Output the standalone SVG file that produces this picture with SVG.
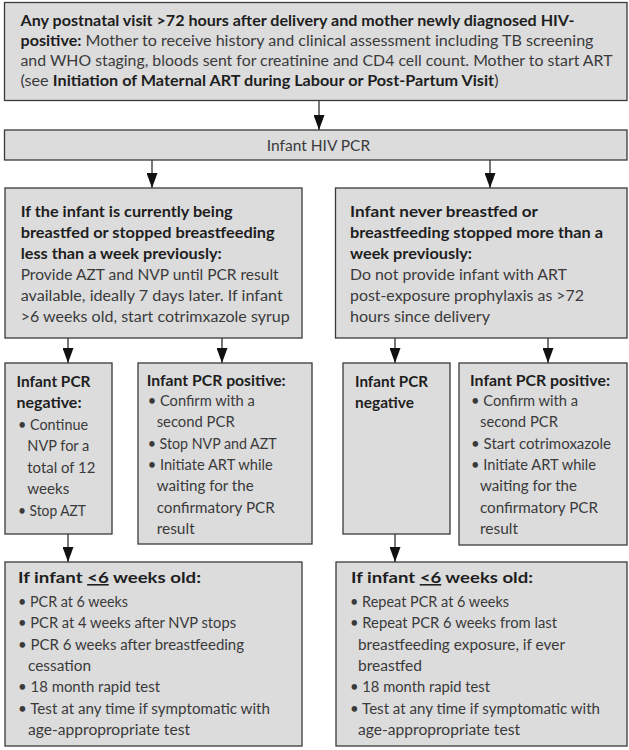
<svg xmlns="http://www.w3.org/2000/svg" width="629" height="750" viewBox="0 0 629 750">
<style>
.box{fill:#dcdcdd;stroke:#3a3a3a;stroke-width:1.3}
text{font-family:Lato,"Open Sans","Liberation Sans",sans-serif;font-size:15.5px;fill:#3a3a3a}
.b{font-weight:bold;fill:#1e1e1e}
.conn{stroke:#1e1e1e;stroke-width:1.2;fill:none}
</style>
<defs>
<marker id="ah" viewBox="0 0 15 11" markerWidth="15" markerHeight="11" refX="15" refY="5.5" orient="auto" markerUnits="userSpaceOnUse">
<path d="M0,0 L15,5.5 L0,11 z" fill="#111"/>
</marker>
</defs>
<rect width="629" height="750" fill="#ffffff"/>

<g id="connectors">
<line class="conn" x1="319" y1="100.5" x2="319" y2="130" marker-end="url(#ah)"/>
<line class="conn" x1="152" y1="160" x2="152" y2="188" marker-end="url(#ah)"/>
<line class="conn" x1="490" y1="160" x2="490" y2="188" marker-end="url(#ah)"/>
<line class="conn" x1="68" y1="338" x2="68" y2="363" marker-end="url(#ah)"/>
<line class="conn" x1="222" y1="338" x2="222" y2="363" marker-end="url(#ah)"/>
<line class="conn" x1="395" y1="338" x2="395" y2="363" marker-end="url(#ah)"/>
<line class="conn" x1="548" y1="338" x2="548" y2="363" marker-end="url(#ah)"/>
<line class="conn" x1="68" y1="534" x2="68" y2="562" marker-end="url(#ah)"/>
<line class="conn" x1="395" y1="534" x2="395" y2="562" marker-end="url(#ah)"/>
</g>

<g id="mother-visit">
<rect class="box" x="4.5" y="2.5" width="622.5" height="98"/>
<text x="20.5" y="25.5" textLength="554" lengthAdjust="spacingAndGlyphs"><tspan class="b">Any postnatal visit &gt;72 hours after delivery and mother newly diagnosed HIV-</tspan></text>
<text x="20.5" y="45.8" textLength="573" lengthAdjust="spacingAndGlyphs"><tspan class="b">positive:</tspan> Mother to receive history and clinical assessment including TB screening</text>
<text x="20.5" y="66.1" textLength="592" lengthAdjust="spacingAndGlyphs">and WHO staging, bloods sent for creatinine and CD4 cell count. Mother to start ART</text>
<text x="20.5" y="86.4" textLength="478" lengthAdjust="spacingAndGlyphs">(see <tspan class="b">Initiation of Maternal ART during Labour or Post-Partum Visit</tspan>)</text>
</g>

<g id="infant-pcr">
<rect class="box" x="4.5" y="130" width="622.5" height="30"/>
<text x="318.5" y="150.5" text-anchor="middle">Infant HIV PCR</text>
</g>

<g id="breastfed">
<rect class="box" x="5" y="188" width="297" height="150"/>
<text x="20.7" y="217" class="b" textLength="212" lengthAdjust="spacingAndGlyphs">If the infant is currently being</text>
<text x="20.7" y="238" class="b" textLength="254" lengthAdjust="spacingAndGlyphs">breastfed or stopped breastfeeding</text>
<text x="20.7" y="259" class="b" textLength="201" lengthAdjust="spacingAndGlyphs">less than a week previously:</text>
<text x="20.7" y="280" textLength="258" lengthAdjust="spacingAndGlyphs">Provide AZT and NVP until PCR result</text>
<text x="20.7" y="300.8" textLength="262" lengthAdjust="spacingAndGlyphs">available, ideally 7 days later. If infant</text>
<text x="20.7" y="321.6" textLength="269" lengthAdjust="spacingAndGlyphs">&gt;6 weeks old, start cotrimxazole syrup</text>
</g>

<g id="never-breastfed">
<rect class="box" x="335.5" y="188" width="291.5" height="150"/>
<text x="350" y="217" class="b" textLength="188" lengthAdjust="spacingAndGlyphs">Infant never breastfed or</text>
<text x="350" y="238" class="b" textLength="253" lengthAdjust="spacingAndGlyphs">breastfeeding stopped more than a</text>
<text x="350" y="259" class="b" textLength="122" lengthAdjust="spacingAndGlyphs">week previously:</text>
<text x="350" y="280" textLength="217" lengthAdjust="spacingAndGlyphs">Do not provide infant with ART</text>
<text x="350" y="300.8" textLength="234" lengthAdjust="spacingAndGlyphs">post-exposure prophylaxis as &gt;72</text>
<text x="350" y="321.6" textLength="140" lengthAdjust="spacingAndGlyphs">hours since delivery</text>
</g>

<g id="left-negative">
<rect class="box" x="5" y="363" width="107" height="171"/>
<text x="16.5" y="387" class="b" textLength="74" lengthAdjust="spacingAndGlyphs">Infant PCR</text>
<text x="16.5" y="408" class="b" textLength="65" lengthAdjust="spacingAndGlyphs">negative:</text>
<text x="18" y="429.5" textLength="70" lengthAdjust="spacingAndGlyphs">• Continue</text>
<text x="27.3" y="451" textLength="62" lengthAdjust="spacingAndGlyphs">NVP for a</text>
<text x="27.3" y="472.5" textLength="68" lengthAdjust="spacingAndGlyphs">total of 12</text>
<text x="27.3" y="494" textLength="42" lengthAdjust="spacingAndGlyphs">weeks</text>
<text x="18" y="515.5" textLength="68" lengthAdjust="spacingAndGlyphs">• Stop AZT</text>
</g>

<g id="left-positive">
<rect class="box" x="138" y="363" width="174" height="181"/>
<text x="146.7" y="386" class="b" textLength="139" lengthAdjust="spacingAndGlyphs">Infant PCR positive:</text>
<text x="147.7" y="406" textLength="107" lengthAdjust="spacingAndGlyphs">• Confirm with a</text>
<text x="156.7" y="427.3" textLength="78" lengthAdjust="spacingAndGlyphs">second PCR</text>
<text x="147.7" y="448.6" textLength="129" lengthAdjust="spacingAndGlyphs">• Stop NVP and AZT</text>
<text x="147.7" y="469.9" textLength="125" lengthAdjust="spacingAndGlyphs">• Initiate ART while</text>
<text x="156.7" y="491.2" textLength="97" lengthAdjust="spacingAndGlyphs">waiting for the</text>
<text x="156.7" y="512.5" textLength="118" lengthAdjust="spacingAndGlyphs">confirmatory PCR</text>
<text x="156.7" y="533.8" textLength="38" lengthAdjust="spacingAndGlyphs">result</text>
</g>

<g id="right-negative">
<rect class="box" x="343" y="363" width="107" height="171"/>
<text x="355" y="387" class="b" textLength="73" lengthAdjust="spacingAndGlyphs">Infant PCR</text>
<text x="355" y="408" class="b" textLength="59" lengthAdjust="spacingAndGlyphs">negative</text>
</g>

<g id="right-positive">
<rect class="box" x="459" y="363" width="168" height="182"/>
<text x="470" y="386" class="b" textLength="140" lengthAdjust="spacingAndGlyphs">Infant PCR positive:</text>
<text x="471" y="406" textLength="107" lengthAdjust="spacingAndGlyphs">• Confirm with a</text>
<text x="480" y="427.3" textLength="78" lengthAdjust="spacingAndGlyphs">second PCR</text>
<text x="471" y="448.6" textLength="140" lengthAdjust="spacingAndGlyphs">• Start cotrimoxazole</text>
<text x="471" y="469.9" textLength="125" lengthAdjust="spacingAndGlyphs">• Initiate ART while</text>
<text x="480" y="491.2" textLength="97" lengthAdjust="spacingAndGlyphs">waiting for the</text>
<text x="480" y="512.5" textLength="118" lengthAdjust="spacingAndGlyphs">confirmatory PCR</text>
<text x="480" y="533.8" textLength="38" lengthAdjust="spacingAndGlyphs">result</text>
</g>

<g id="left-followup">
<rect class="box" x="5" y="562" width="297" height="184"/>
<text x="18" y="583" class="b" textLength="183" lengthAdjust="spacingAndGlyphs">If infant <tspan text-decoration="underline">&lt;6</tspan> weeks old:</text>
<text x="18" y="607" textLength="110" lengthAdjust="spacingAndGlyphs">• PCR at 6 weeks</text>
<text x="18" y="628.3" textLength="218" lengthAdjust="spacingAndGlyphs">• PCR at 4 weeks after NVP stops</text>
<text x="18" y="649.6" textLength="226" lengthAdjust="spacingAndGlyphs">• PCR 6 weeks after breastfeeding</text>
<text x="28" y="670.9" textLength="63" lengthAdjust="spacingAndGlyphs">cessation</text>
<text x="18" y="692.2" textLength="142" lengthAdjust="spacingAndGlyphs">• 18 month rapid test</text>
<text x="18" y="713.5" textLength="252" lengthAdjust="spacingAndGlyphs">• Test at any time if symptomatic with</text>
<text x="28" y="734.8" textLength="162" lengthAdjust="spacingAndGlyphs">age-appropropriate test</text>
</g>

<g id="right-followup">
<rect class="box" x="336" y="562" width="291" height="184"/>
<text x="351" y="583" class="b" textLength="182" lengthAdjust="spacingAndGlyphs">If infant <tspan text-decoration="underline">&lt;6</tspan> weeks old:</text>
<text x="350" y="607" textLength="159" lengthAdjust="spacingAndGlyphs">• Repeat PCR at 6 weeks</text>
<text x="350" y="628.3" textLength="207" lengthAdjust="spacingAndGlyphs">• Repeat PCR 6 weeks from last</text>
<text x="358" y="649.6" textLength="207" lengthAdjust="spacingAndGlyphs">breastfeeding exposure, if ever</text>
<text x="358" y="670.9" textLength="64" lengthAdjust="spacingAndGlyphs">breastfed</text>
<text x="350" y="692.2" textLength="140" lengthAdjust="spacingAndGlyphs">• 18 month rapid test</text>
<text x="350" y="713.5" textLength="250" lengthAdjust="spacingAndGlyphs">• Test at any time if symptomatic with</text>
<text x="358" y="734.8" textLength="162" lengthAdjust="spacingAndGlyphs">age-appropropriate test</text>
</g>
</svg>
